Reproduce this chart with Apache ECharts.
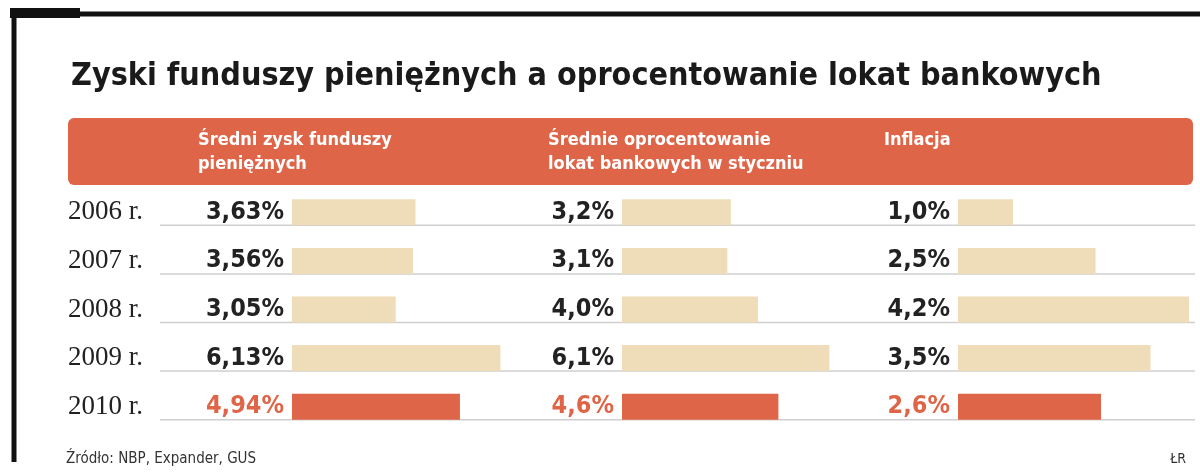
<!DOCTYPE html>
<html>
<head>
<meta charset="utf-8">
<script src="https://cdn.jsdelivr.net/npm/echarts@6/dist/echarts.min.js"></script>
<style>body{margin:0;background:#fff}#chart{width:1200px;height:474px}</style>
</head>
<body>
<div id="chart"></div>
<script>
const years = ["2006 r.", "2007 r.", "2008 r.", "2009 r.", "2010 r."];
const fundGains = [3.63, 3.56, 3.05, 6.13, 4.94];
const depositRates = [3.2, 3.1, 4.0, 6.1, 4.6];
const inflation = [1.0, 2.5, 4.2, 3.5, 2.6];
const decimals = [2, 1, 1];

const chart = echarts.init(document.getElementById("chart"));
const beige = "#efdcb8", red = "#df6548";
const narrow = "'Liberation Sans Narrow', 'DejaVu Sans Condensed', sans-serif";

// grid positions for the three columns
const grids = [
  { left: 292, width: 7 * 34, max: 7 },
  { left: 622, width: 7 * 34, max: 7 },
  { left: 958, width: 4.2 * 55, max: 4.2 }
];

const mkSeries = (vals, i) => ({
  type: "bar", xAxisIndex: i, yAxisIndex: i, barWidth: 26, z: 3,
  data: vals.map((v, k) => ({
    value: v,
    itemStyle: { color: k === vals.length - 1 ? red : beige },
    label: { color: k === vals.length - 1 ? red : "#222" }
  })),
  label: {
    show: true, position: "left", distance: 8,
    fontFamily: narrow, fontWeight: "bold", fontSize: 25,
    formatter: (p) => p.value.toFixed(decimals[i]).replace(".", ",") + "%"
  }
});

// gray baselines under each row
const rowLines = years.map((_, k) => ({
  type: "line", z: 0,
  shape: { x1: 160, y1: 188 + 48.6 * (k + 0.5) + 13, x2: 1195, y2: 188 + 48.6 * (k + 0.5) + 13 },
  style: { stroke: "#cfcfcf", lineWidth: 1.5 }
}));

chart.setOption({
  animation: false,
  title: {
    text: "Zyski funduszy pieniężnych a oprocentowanie lokat bankowych",
    left: 66, top: 56,
    textStyle: { fontFamily: narrow, fontWeight: "bold", fontSize: 32, color: "#1a1a1a" }
  },
  grid: grids.map(g => ({ left: g.left, width: g.width, top: 188, height: 243 })),
  xAxis: grids.map((g, i) => ({ type: "value", gridIndex: i, min: 0, max: g.max, show: false })),
  yAxis: grids.map((g, i) => ({
    type: "category", gridIndex: i, data: years, inverse: true,
    axisLine: { show: false }, axisTick: { show: false }, splitLine: { show: false },
    axisLabel: {
      show: i === 0, align: "left", margin: 224,
      fontFamily: "'Liberation Serif', serif", fontSize: 27, color: "#222"
    }
  })),
  series: [mkSeries(fundGains, 0), mkSeries(depositRates, 1), mkSeries(inflation, 2)],
  graphic: [
    { type: "polyline", shape: { points: [[14, 462], [14, 14], [1200, 14]] }, style: { stroke: "#111", lineWidth: 5, fill: null } },
    { type: "rect", shape: { x: 10, y: 8, width: 70, height: 10 }, style: { fill: "#111" } },
    { type: "rect", shape: { x: 68, y: 118, width: 1125, height: 67, r: 6 }, style: { fill: red } },
    { type: "text", left: 198, top: 128, style: { text: "Średni zysk funduszy\npieniężnych", fill: "#fff", font: "bold 18px " + narrow, lineHeight: 24 } },
    { type: "text", left: 548, top: 128, style: { text: "Średnie oprocentowanie\nlokat bankowych w styczniu", fill: "#fff", font: "bold 18px " + narrow, lineHeight: 24 } },
    { type: "text", left: 884, top: 128, style: { text: "Inflacja", fill: "#fff", font: "bold 18px " + narrow, lineHeight: 24 } },
    { type: "text", left: 66, top: 452, style: { text: "Źródło: NBP, Expander, GUS", fill: "#333", font: "15px " + narrow } },
    { type: "text", right: 14, top: 452, style: { text: "ŁR", fill: "#333", font: "14px " + narrow } }
  ].concat(rowLines)
});
</script>
</body>
</html>
